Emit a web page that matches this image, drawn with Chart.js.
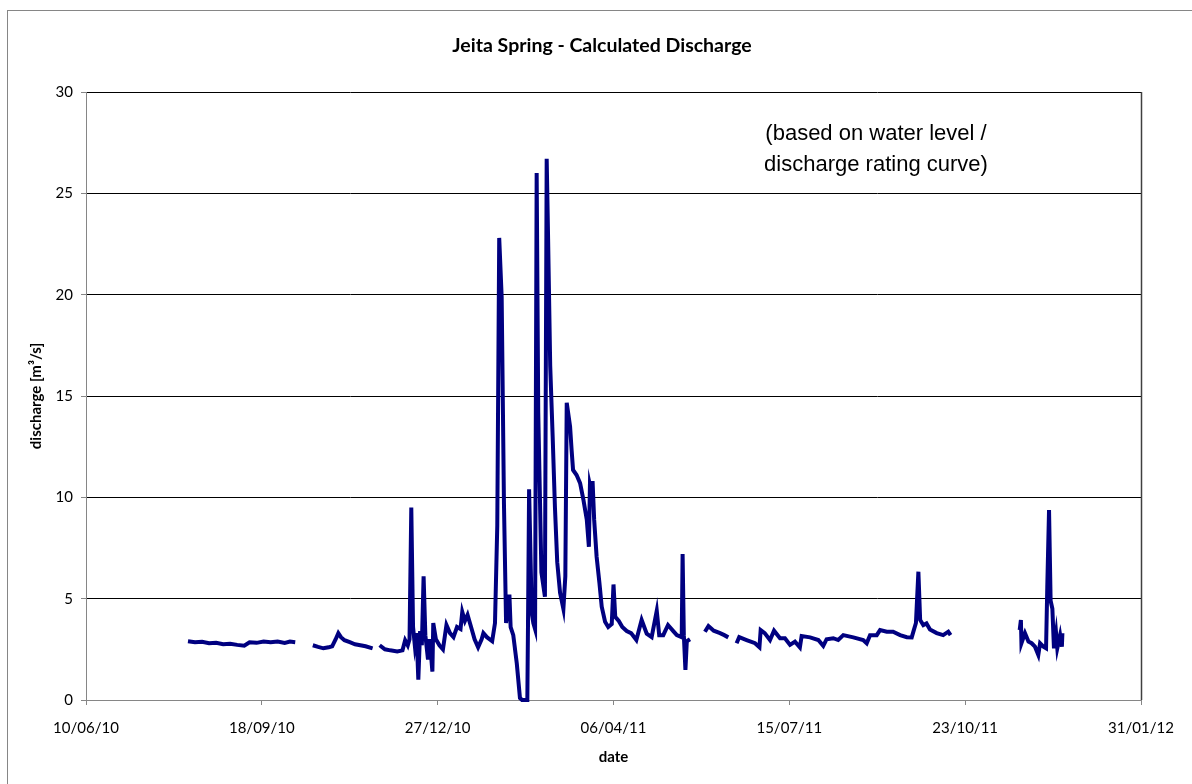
<!DOCTYPE html>
<html>
<head>
<meta charset="utf-8">
<script src="https://cdn.jsdelivr.net/npm/chart.js@4.4.1/dist/chart.umd.min.js"></script>
<style>
  html, body { margin: 0; padding: 0; background: #fff; }
  #wrap { width: 1192px; height: 784px; }
</style>
</head>
<body>
<div id="wrap"><canvas id="chart" width="1192" height="784"></canvas></div>
<script>
// days after 10/06/10 (x axis origin), null discharge = gap in record
const days = [
  58, 62, 66, 70, 74, 78, 82, 86, 90, 93, 97, 101, 105, 109, 113, 116, 119,
  124,
  129, 132, 135, 138, 140, 142, 143.5, 145, 147, 150, 153, 156, 159, 163,
  165,
  167, 170, 173, 177, 180, 181.5, 183, 184, 185, 186, 187, 188, 189, 190, 191, 192, 193, 194.5, 195.5,
  197, 197.5, 199, 201, 203, 205, 207, 209, 211, 213, 214, 215.5, 217, 219, 221, 223, 225, 226, 228,
  231, 232.6, 233.9, 235, 236.4, 237.7, 238.9, 240.8, 241.5, 243, 245, 246.8, 248, 251, 251.5, 252,
  253.5, 254.4, 255.4, 256.3, 257.2, 259, 261, 262, 262.8, 264, 265.4, 266.7, 268, 269.6, 271.5,
  272.6, 273.4, 275.3, 276.2, 277, 279, 281, 282.9, 284.8, 286, 286.6, 287.6, 288.1, 289, 290.4,
  292, 293.3, 295.2, 297, 299, 300, 301, 303, 305, 307.5, 310, 313, 316, 318.9, 321.7, 324.6, 326,
  328.3, 331, 334, 336, 338.8, 339.3, 340, 340.9, 341.7, 343.5,
  348,
  352, 354, 357, 360.6, 363, 365.3,
  367,
  370, 371.5, 375.7, 380.5, 383, 383.7, 386, 389, 391.3, 394.7, 397.5, 400.4, 403.2, 406, 407, 411.8,
  416.5, 419.3, 421.2, 425, 427.8, 430.7, 436.4, 442, 444, 445.9, 449.7, 451.6, 455.4, 459, 463,
  466.8, 469.6, 470.8, 472, 473.4, 474.4, 476.2, 478, 480, 483.8, 487.5, 490.4, 491.7,
  510,
  531, 531.7, 532, 534, 536, 537.8, 539.7, 541.6, 542.6, 544.5, 546, 546.7, 547.7, 548.6, 549.6,
  550.5, 551.7, 552.4, 554, 555, 555.3
];
const discharge = [
  2.9, 2.85, 2.87, 2.8, 2.82, 2.75, 2.78, 2.72, 2.68, 2.85, 2.82, 2.88, 2.85, 2.88, 2.82, 2.88, 2.85,
  null,
  2.7, 2.62, 2.55, 2.6, 2.65, 3.0, 3.3, 3.1, 2.95, 2.85, 2.75, 2.7, 2.65, 2.55,
  null,
  2.7, 2.5, 2.45, 2.4, 2.45, 2.95, 2.7, 3.0, 9.5, 3.6, 2.7, 3.3, 1.0, 3.4, 2.7, 6.1, 3.2, 2.0, 3.0,
  1.4, 3.8, 3.0, 2.7, 2.5, 3.7, 3.3, 3.1, 3.6, 3.5, 4.35, 3.9, 4.2, 3.6, 3.0, 2.6, 3.0, 3.3, 3.1,
  2.9, 3.8, 8.6, 22.8, 19.9, 9.7, 3.8, 5.2, 3.6, 3.2, 1.8, 0.1, 0, 0, 5.0, 10.4,
  4.3, 3.8, 3.5, 26.0, 14.2, 6.3, 5.1, 26.7, 22.8, 16.5, 13.0, 9.5, 6.8, 5.3, 4.5,
  6.1, 14.67, 13.5, 12.3, 11.35, 11.1, 10.7, 9.87, 8.9, 7.56, 10.6, 10.2, 10.8, 8.9, 7.07,
  5.77, 4.6, 3.86, 3.6, 3.75, 5.7, 4.1, 3.9, 3.6, 3.4, 3.3, 2.96, 3.95, 3.27, 3.1, 4.4, 3.2,
  3.2, 3.7, 3.4, 3.2, 3.1, 7.2, 3.2, 1.48, 2.9, 3.0,
  null,
  3.37, 3.65, 3.42, 3.3, 3.2, 3.09,
  null,
  2.8, 3.1, 2.96, 2.8, 2.6, 3.45, 3.3, 2.96, 3.42, 3.05, 3.05, 2.72, 2.88, 2.6, 3.16, 3.09,
  2.96, 2.67, 3.0, 3.05, 2.96, 3.2, 3.09, 2.96, 2.8, 3.2, 3.2, 3.45, 3.37, 3.37, 3.2,
  3.1, 3.09, 3.45, 3.8, 6.33, 3.95, 3.7, 3.78, 3.48, 3.3, 3.2, 3.37, 3.2,
  null,
  3.45, 3.95, 2.8, 3.3, 2.88, 2.8, 2.63, 2.22, 2.8, 2.63, 2.55, 5.59, 9.37, 4.9, 4.5,
  2.55, 3.3, 2.55, 3.2, 2.63, 3.3
];
const startDate = Date.UTC(2010, 5, 10);
const xTicks = [0, 100, 200, 300, 400, 500, 600];
const yTicks = [0, 5, 10, 15, 20, 25, 30];

const points = days.map((d, i) => ({ x: d, y: discharge[i] }));

function dayLabel(v) {
  const dt = new Date(startDate + v * 86400000);
  const p = n => String(n).padStart(2, '0');
  return p(dt.getUTCDate()) + '/' + p(dt.getUTCMonth() + 1) + '/' + p(dt.getUTCFullYear() % 100);
}

// title, note and frame lines
const extras = {
  id: 'extras',
  beforeDraw(chart) {
    const ctx = chart.ctx;
    ctx.save();
    ctx.fillStyle = '#fff';
    ctx.fillRect(0, 0, chart.width, chart.height);
    ctx.strokeStyle = '#868686';
    ctx.lineWidth = 1;
    ctx.strokeRect(7.5, 10.5, 1300, 900);
    ctx.restore();
  },
  afterDraw(chart) {
    const ctx = chart.ctx;
    const a = chart.chartArea;
    ctx.save();
    ctx.strokeStyle = '#404040';
    ctx.lineWidth = 1.5;
    ctx.beginPath();
    ctx.moveTo(Math.round(a.right) + 0.5, a.top);
    ctx.lineTo(Math.round(a.right) + 0.5, a.bottom);
    ctx.stroke();

    ctx.fillStyle = '#000';
    ctx.textAlign = 'center';
    ctx.textBaseline = 'middle';
    ctx.font = 'bold 19.5px Lato, "Open Sans", sans-serif';
    ctx.fillText('Jeita Spring - Calculated Discharge', 602, 46);

    ctx.font = '22px "Liberation Sans", Arial, sans-serif';
    ctx.fillText('(based on water level /', 876, 134);
    ctx.fillText('discharge rating curve)', 876, 165);
    ctx.restore();
  }
};

new Chart(document.getElementById('chart'), {
  type: 'line',
  data: {
    datasets: [{
      data: points,
      borderColor: '#000080',
      borderWidth: 4,
      pointRadius: 0,
      tension: 0,
      spanGaps: false,
      clip: 6
    }]
  },
  options: {
    responsive: false,
    animation: false,
    devicePixelRatio: 1,
    layout: { padding: { top: 92, right: 51, left: 0, bottom: 0 } },
    plugins: { legend: { display: false }, tooltip: { enabled: false } },
    scales: {
      x: {
        type: 'linear',
        min: 0,
        max: 600,
        afterFit(scale) { scale.height = 84; },
        afterBuildTicks(scale) { scale.ticks = xTicks.map(v => ({ value: v })); },
        ticks: {
          callback: v => dayLabel(v),
          color: '#000',
          font: { family: 'Lato', size: 15 },
          padding: 14,
          maxRotation: 0,
          autoSkip: false
        },
        grid: { drawOnChartArea: false, tickLength: 5, tickColor: '#868686' },
        border: { color: '#868686', width: 1 },
        title: {
          display: true,
          text: 'date',
          color: '#000',
          font: { family: 'Lato', size: 15, weight: 'bold' },
          padding: { top: 0, bottom: 18 }
        }
      },
      y: {
        min: 0,
        max: 30,
        afterFit(scale) { scale.width = 86; },
        afterBuildTicks(scale) { scale.ticks = yTicks.map(v => ({ value: v })); },
        ticks: {
          color: '#000',
          font: { family: 'Lato', size: 15 },
          padding: 8
        },
        grid: {
          color: c => (c.tick && c.tick.value === 0 ? 'rgba(0,0,0,0)' : '#000'),
          lineWidth: 1,
          tickLength: 5,
          tickColor: '#868686'
        },
        border: { color: '#868686', width: 1 },
        title: {
          display: true,
          text: 'discharge [m³/s]',
          color: '#000',
          font: { family: 'Lato', size: 15, weight: 'bold' },
          padding: { top: 27, bottom: 0 }
        }
      }
    }
  },
  plugins: [extras]
});
</script>
</body>
</html>
